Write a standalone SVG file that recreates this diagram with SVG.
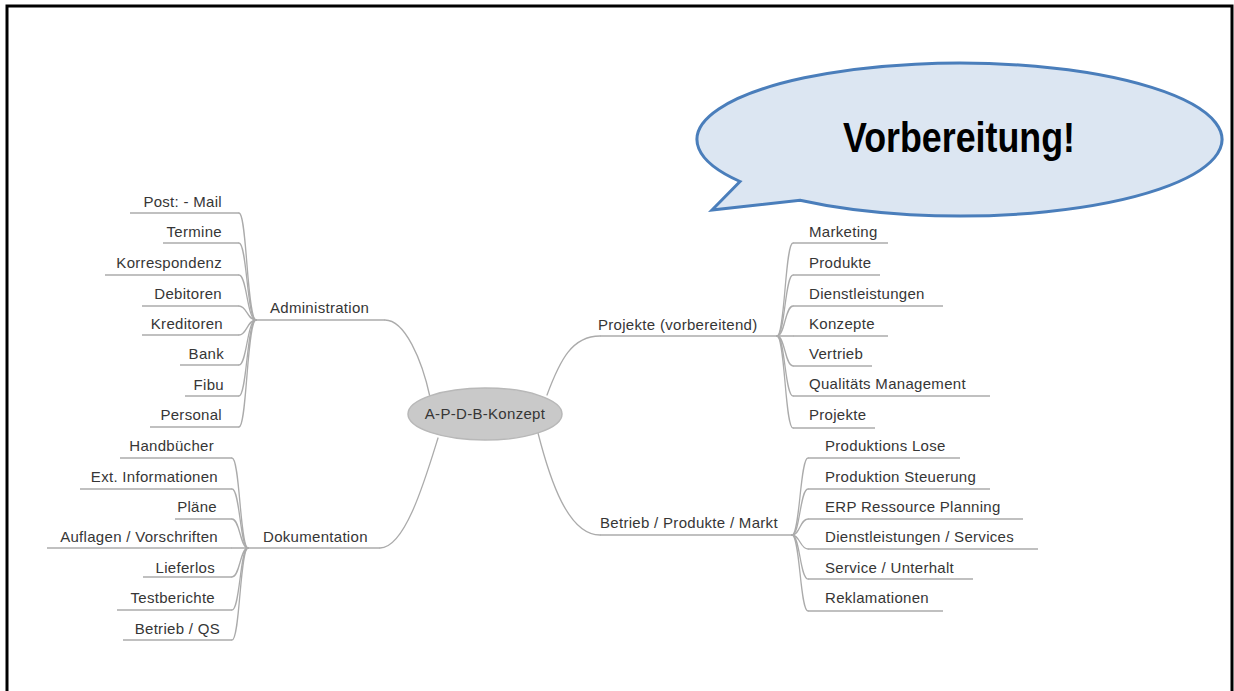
<svg xmlns="http://www.w3.org/2000/svg" width="1234" height="691" viewBox="0 0 1234 691">
<style>
.t{font-family:"Liberation Sans",Arial,sans-serif;font-size:15px;fill:#363636;letter-spacing:0.3px}
.r{text-anchor:end}
.ln{fill:none;stroke:#ababab;stroke-width:1.3;stroke-linecap:round}
.ul{stroke:#ababab;stroke-width:1.3}
</style>
<rect x="0" y="0" width="1234" height="691" fill="#ffffff"/>
<rect x="7" y="6" width="1225" height="700" fill="none" stroke="#000" stroke-width="3"/>

<g id="connectors" class="ln">
  <!-- main branches -->
  <path d="M385,320 C405,320 422,360 430,397"/>
  <path d="M380,548 C405,548 425,480 438,438"/>
  <path d="M547,395 C560,360 572,336 600,336"/>
  <path d="M538,433 C550,480 568,535 600,535"/>
  <!-- Administration children -->
  <path d="M256,320 C247,320 247,213 239,213"/>
  <path d="M256,320 C247,320 247,243 239,243"/>
  <path d="M256,320 C247,320 247,275 239,275"/>
  <path d="M256,320 C247,320 247,306 239,306"/>
  <path d="M256,320 C247,320 247,335 239,335"/>
  <path d="M256,320 C247,320 247,365 239,365"/>
  <path d="M256,320 C247,320 247,396 239,396"/>
  <path d="M256,320 C247,320 247,427 239,427"/>
  <!-- Dokumentation children -->
  <path d="M248,548 C240,548 240,458 232,458"/>
  <path d="M248,548 C240,548 240,489 232,489"/>
  <path d="M248,548 C240,548 240,519 232,519"/>
  <path d="M248,548 L232,548"/>
  <path d="M248,548 C240,548 240,577 232,577"/>
  <path d="M248,548 C240,548 240,610 232,610"/>
  <path d="M248,548 C240,548 240,640 232,640"/>
  <!-- Projekte children -->
  <path d="M777,336 C785,336 785,243 793,243"/>
  <path d="M777,336 C785,336 785,275 793,275"/>
  <path d="M777,336 C785,336 785,306 793,306"/>
  <path d="M777,336 L793,336"/>
  <path d="M777,336 C785,336 785,366 793,366"/>
  <path d="M777,336 C785,336 785,396 793,396"/>
  <path d="M777,336 C785,336 785,428 793,428"/>
  <!-- Betrieb children -->
  <path d="M792,535 C800,535 800,458 808,458"/>
  <path d="M792,535 C800,535 800,489 808,489"/>
  <path d="M792,535 C800,535 800,519 808,519"/>
  <path d="M792,535 C800,535 800,549 808,549"/>
  <path d="M792,535 C800,535 800,579 808,579"/>
  <path d="M792,535 C800,535 800,611 808,611"/>
</g>

<g id="center">
  <ellipse cx="485" cy="414" rx="77" ry="26" fill="#c9c9c9" stroke="#b8b8b8" stroke-width="1.5"/>
  <text class="t" x="485" y="419" text-anchor="middle">A-P-D-B-Konzept</text>
</g>

<g id="administration"><line class="ul" x1="256" y1="320" x2="385" y2="320"/><text class="t" x="270" y="313">Administration</text></g>
<g id="dokumentation"><line class="ul" x1="248" y1="548" x2="380" y2="548"/><text class="t" x="263" y="542">Dokumentation</text></g>
<g id="projekte-vorb"><line class="ul" x1="600" y1="336" x2="777" y2="336"/><text class="t" x="598" y="330">Projekte (vorbereitend)</text></g>
<g id="betrieb-markt"><line class="ul" x1="600" y1="535" x2="792" y2="535"/><text class="t" x="600" y="528">Betrieb / Produkte / Markt</text></g>

<g id="post"><line class="ul" x1="130" y1="213" x2="239" y2="213"/><text class="t r" x="222" y="207">Post: - Mail</text></g>
<g id="termine"><line class="ul" x1="163" y1="243" x2="239" y2="243"/><text class="t r" x="222" y="237">Termine</text></g>
<g id="korrespondenz"><line class="ul" x1="105" y1="275" x2="239" y2="275"/><text class="t r" x="222" y="268">Korrespondenz</text></g>
<g id="debitoren"><line class="ul" x1="142" y1="306" x2="239" y2="306"/><text class="t r" x="222" y="299">Debitoren</text></g>
<g id="kreditoren"><line class="ul" x1="142" y1="335" x2="239" y2="335"/><text class="t r" x="223" y="329">Kreditoren</text></g>
<g id="bank"><line class="ul" x1="180" y1="365" x2="239" y2="365"/><text class="t r" x="224" y="359">Bank</text></g>
<g id="fibu"><line class="ul" x1="185" y1="396" x2="239" y2="396"/><text class="t r" x="224" y="390">Fibu</text></g>
<g id="personal"><line class="ul" x1="150" y1="427" x2="239" y2="427"/><text class="t r" x="222" y="420">Personal</text></g>

<g id="handbuecher"><line class="ul" x1="120" y1="458" x2="232" y2="458"/><text class="t r" x="214" y="451">Handbücher</text></g>
<g id="ext-info"><line class="ul" x1="80" y1="489" x2="232" y2="489"/><text class="t r" x="218" y="482">Ext. Informationen</text></g>
<g id="plaene"><line class="ul" x1="175" y1="519" x2="232" y2="519"/><text class="t r" x="217" y="512">Pläne</text></g>
<g id="auflagen"><line class="ul" x1="47" y1="548" x2="232" y2="548"/><text class="t r" x="218" y="542">Auflagen / Vorschriften</text></g>
<g id="lieferlos"><line class="ul" x1="143" y1="577" x2="232" y2="577"/><text class="t r" x="215" y="573">Lieferlos</text></g>
<g id="testberichte"><line class="ul" x1="117" y1="610" x2="232" y2="610"/><text class="t r" x="215" y="603">Testberichte</text></g>
<g id="betrieb-qs"><line class="ul" x1="123" y1="640" x2="232" y2="640"/><text class="t r" x="220" y="634">Betrieb / QS</text></g>

<g id="marketing"><line class="ul" x1="793" y1="243" x2="888" y2="243"/><text class="t" x="809" y="237">Marketing</text></g>
<g id="produkte"><line class="ul" x1="793" y1="275" x2="880" y2="275"/><text class="t" x="809" y="268">Produkte</text></g>
<g id="dienstleistungen"><line class="ul" x1="793" y1="306" x2="943" y2="306"/><text class="t" x="809" y="299">Dienstleistungen</text></g>
<g id="konzepte"><line class="ul" x1="793" y1="336" x2="888" y2="336"/><text class="t" x="809" y="329">Konzepte</text></g>
<g id="vertrieb"><line class="ul" x1="793" y1="366" x2="872" y2="366"/><text class="t" x="809" y="359">Vertrieb</text></g>
<g id="qualitaet"><line class="ul" x1="793" y1="396" x2="990" y2="396"/><text class="t" x="809" y="389">Qualitäts Management</text></g>
<g id="projekte"><line class="ul" x1="793" y1="428" x2="875" y2="428"/><text class="t" x="809" y="420">Projekte</text></g>

<g id="produktions-lose"><line class="ul" x1="808" y1="458" x2="960" y2="458"/><text class="t" x="825" y="451">Produktions Lose</text></g>
<g id="produktion-steuerung"><line class="ul" x1="808" y1="489" x2="990" y2="489"/><text class="t" x="825" y="482">Produktion Steuerung</text></g>
<g id="erp"><line class="ul" x1="808" y1="519" x2="1023" y2="519"/><text class="t" x="825" y="512">ERP Ressource Planning</text></g>
<g id="dl-services"><line class="ul" x1="808" y1="549" x2="1038" y2="549"/><text class="t" x="825" y="542">Dienstleistungen / Services</text></g>
<g id="service"><line class="ul" x1="808" y1="579" x2="973" y2="579"/><text class="t" x="825" y="573">Service / Unterhalt</text></g>
<g id="reklamationen"><line class="ul" x1="808" y1="611" x2="943" y2="611"/><text class="t" x="825" y="603">Reklamationen</text></g>

<g id="callout">
  <path d="M740,181.5 A262.5,76.5 0 1 1 800,200.3 L712,210 Z" fill="#dce6f2" stroke="#4a7ebb" stroke-width="3" stroke-linejoin="miter"/>
  <text x="959" y="152" text-anchor="middle" font-family="'Liberation Sans Narrow','Liberation Sans',Arial,sans-serif" font-weight="bold" font-size="42" fill="#000" textLength="232" lengthAdjust="spacingAndGlyphs">Vorbereitung!</text>
</g>
</svg>
